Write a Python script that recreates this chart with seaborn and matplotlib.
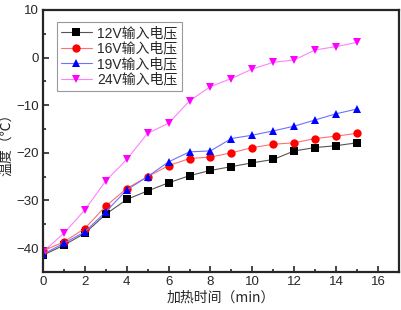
import pandas as pd
import matplotlib
matplotlib.use("Agg")
import matplotlib.pyplot as plt
import seaborn as sns
from matplotlib.ticker import MultipleLocator

# 数据
time_min = list(range(16))
v12 = [-41.5, -39.4, -36.9, -32.9, -29.8, -28.0, -26.3, -24.8, -23.7, -22.9,
       -22.1, -21.4, -19.6, -18.9, -18.5, -17.9]
v16 = [-40.6, -38.7, -35.9, -31.2, -27.5, -25.0, -22.7, -21.2, -20.9, -20.0,
       -18.9, -18.2, -17.9, -17.0, -16.5, -15.9]
v19 = [-41.3, -39.0, -36.6, -32.4, -27.8, -25.0, -21.9, -19.8, -19.6, -17.0,
       -16.3, -15.4, -14.4, -13.1, -11.8, -10.8]
v24 = [-40.8, -36.9, -32.0, -25.9, -21.4, -15.9, -13.8, -9.1, -6.1, -4.4,
       -2.4, -1.0, -0.5, 1.6, 2.3, 3.2]
labels = ["12V输入电压", "16V输入电压", "19V输入电压", "24V输入电压"]

df = pd.concat([
    pd.DataFrame({"time": time_min, "temp": vals, "series": lab})
    for vals, lab in zip([v12, v16, v19, v24], labels)
])

sns.set_style("ticks")
plt.rcParams['font.family'] = ['Liberation Sans', 'Noto Sans CJK SC', 'DejaVu Sans']

fig = plt.figure(figsize=(4.01, 3.10), dpi=100)
ax = fig.add_axes([0.107, 0.123, 0.888, 0.845])

palette = ["black", "red", "blue", "magenta"]
line_colors = ["#555555", "#ff7070", "#7070ff", "#ff80ff"]
markers = ["s", "o", "^", "v"]
sns.lineplot(data=df, x="time", y="temp", hue="series", style="series",
             palette=palette, markers=markers, dashes=False, ax=ax,
             linewidth=0.8, markersize=6, markeredgewidth=0)


def restyle(lines):
    for line in lines:
        c = line.get_color()
        if c in palette:
            lc = line_colors[palette.index(c)]
        else:
            continue
        line.set_markerfacecolor(c)
        line.set_markeredgecolor(c)
        line.set_color(lc)


restyle(ax.lines)

ax.set_xlim(0, 17)
ax.set_ylim(-45, 10)
ax.xaxis.set_major_locator(MultipleLocator(2))
ax.xaxis.set_minor_locator(MultipleLocator(1))
ax.yaxis.set_major_locator(MultipleLocator(10))
ax.yaxis.set_minor_locator(MultipleLocator(5))
ax.tick_params(which='both', direction='in', labelsize=9.5, width=1.2)
ax.tick_params(which='major', length=4, pad=3)
ax.tick_params(which='minor', length=2.5)
for s in ax.spines.values():
    s.set_linewidth(1.6)

ax.set_xlabel("加热时间（min）", fontsize=10, family=['Noto Sans CJK SC', 'DejaVu Sans'])
ax.set_ylabel("温度（℃）", fontsize=10, family=['Noto Sans CJK SC', 'DejaVu Sans'])
ax.xaxis.set_label_coords(0.5, -0.07)
ax.yaxis.set_label_coords(-0.082, 0.5)

leg = ax.legend(loc='upper left', frameon=True, fancybox=False,
                handlelength=2.2, borderpad=0.3, labelspacing=0.1,
                handletextpad=0.4, bbox_to_anchor=(0.02, 0.98),
                prop={'family': ['Liberation Sans', 'Noto Sans CJK SC'], 'size': 10})
leg.get_frame().set_edgecolor('gray')
leg.get_frame().set_linewidth(0.8)
restyle(leg.get_lines())

fig.savefig("out.png", dpi=100)
